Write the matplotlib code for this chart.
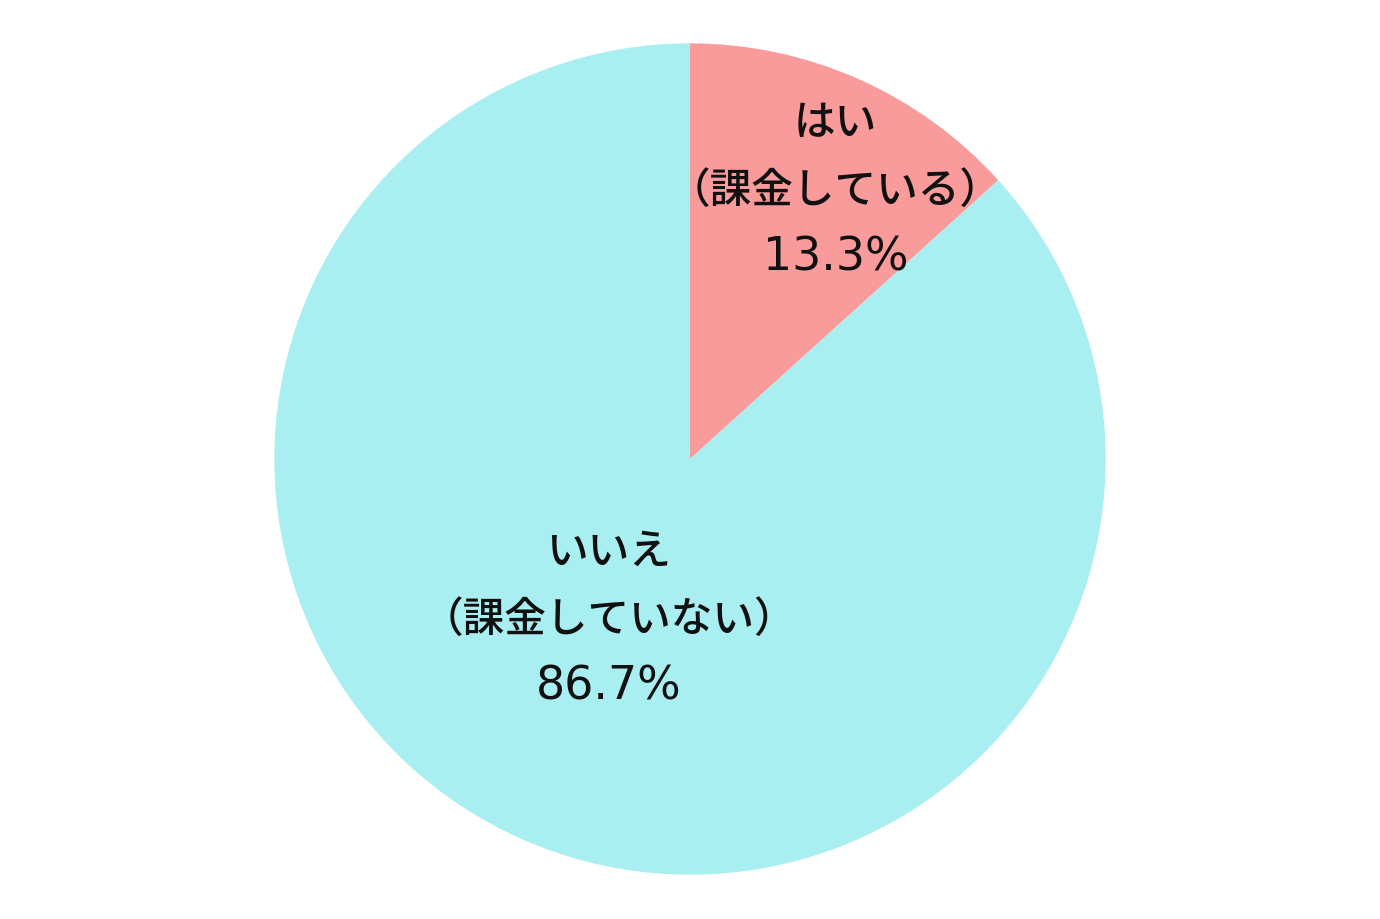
import matplotlib
matplotlib.use("Agg")
import matplotlib.pyplot as plt
import numpy as np

plt.rcParams['font.family'] = ['Noto Sans CJK JP', 'DejaVu Sans']

names = ["はい", "いいえ"]
notes = ["（課金している）", "（課金していない）"]
values = [13.3, 86.7]
colors = ["#FA9B9B", "#A9EEF0"]
label_r = [0.737, 0.43]
label_shift = [-4.4, -3]  # degrees, nudge from wedge middle

fig = plt.figure(figsize=(13.8, 9.2), dpi=100)
ax = fig.add_axes([0, 0, 1, 1])

wedges, _ = ax.pie(values, colors=colors, startangle=90, counterclock=False,
                   radius=1.0, wedgeprops=dict(linewidth=0))

step = 68  # pixels between text lines
for w, nm, nt, v, r, s in zip(wedges, names, notes, values, label_r, label_shift):
    mid = np.deg2rad((w.theta1 + w.theta2) / 2 + s)
    x, y = r * np.cos(mid), r * np.sin(mid)
    ax.annotate(nm, (x, y), xytext=(0, step), textcoords="offset pixels",
                ha="center", va="center", fontsize=30, fontweight="medium", color="#111111")
    ax.annotate(nt, (x, y), xytext=(0, 0), textcoords="offset pixels",
                ha="center", va="center", fontsize=30, fontweight="medium", color="#111111")
    ax.annotate(f"{v:.1f}%", (x, y), xytext=(0, -step), textcoords="offset pixels",
                ha="center", va="center", fontsize=33, family="DejaVu Sans", color="#111111")

ax.set_xlim(-1.66, 1.66)
ax.set_ylim(-1.106, 1.106)
ax.set_aspect("equal")
ax.axis("off")

fig.savefig("out.png", dpi=100, facecolor="white")
